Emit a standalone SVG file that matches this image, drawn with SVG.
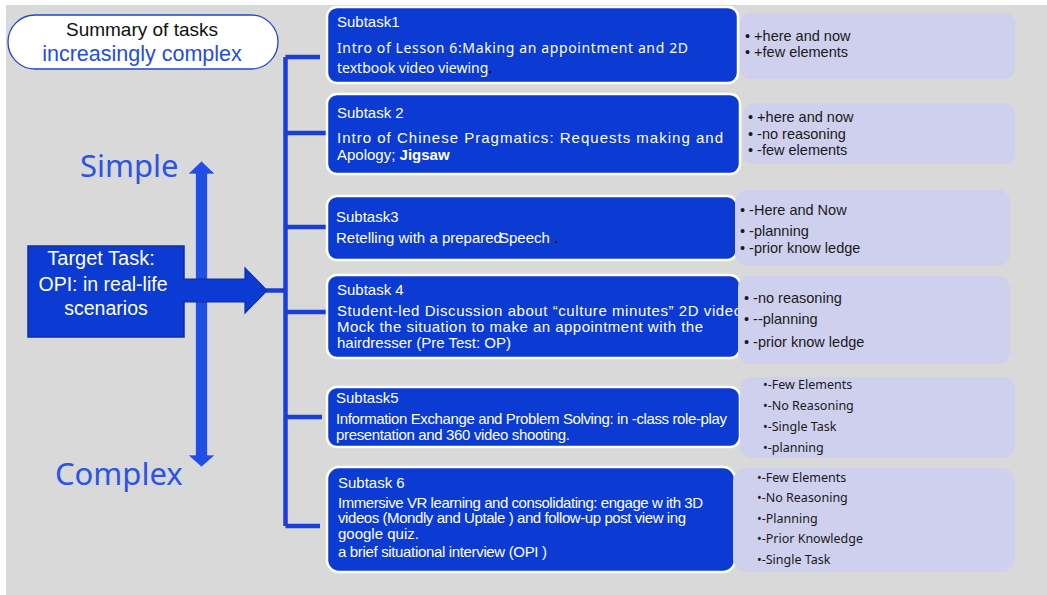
<svg xmlns="http://www.w3.org/2000/svg" width="1047" height="595" viewBox="0 0 1047 595">
<defs>
<style>
.bg{fill:#d9d9d9}
.sub{fill:#0b3bd3;stroke:#ffffff;stroke-width:2.5}
.lav{fill:#cfcfee}
.wt{fill:#ffffff;font-family:"Liberation Sans",Arial,sans-serif;font-size:15px}
.wc{fill:#ffffff;font-family:"Noto Sans","Open Sans",sans-serif;font-size:14px}
.bt{fill:#1a1a1a;font-family:"Liberation Sans",Arial,sans-serif;font-size:14.5px}
.bs{fill:#1a1a1a;font-family:"Noto Sans","Open Sans",sans-serif;font-size:12.5px}
.br{stroke:#1b3fd6;stroke-width:4.5;fill:none}
.big{fill:#2a55e4;font-family:"Noto Sans","Open Sans",sans-serif;font-size:31px}
</style>
</defs>
<rect class="bg" x="6" y="5" width="1041" height="590"/>

<g id="summary">
<rect x="8" y="15" width="270" height="54" rx="27" fill="#ffffff" stroke="#2347c8" stroke-width="1.3"/>
<text x="142" y="36" text-anchor="middle" font-family="Liberation Sans,Arial,sans-serif" font-size="19" fill="#111">Summary of tasks</text>
<text x="142" y="61" text-anchor="middle" font-family="Liberation Sans,Arial,sans-serif" font-size="21.5" fill="#1f4fd8">increasingly complex</text>
</g>

<g id="scale">
<text class="big" x="80" y="177">Simple</text>
<text class="big" x="55" y="485">Complex</text>
<path d="M195.5,174 L188,174 L201.5,161 L215,174 L207.5,174 L207.5,455 L215,455 L201.5,467 L188,455 L195.5,455 Z" fill="#1f4fe6" stroke="#e8ecff" stroke-width="0.6"/>
</g>

<g id="connectors">
<path class="br" d="M285.5,57 L285.5,526"/>
<path class="br" d="M285.5,57 L320,57"/>
<path class="br" d="M285.5,133 L327,133"/>
<path class="br" d="M285.5,227 L327,227"/>
<path class="br" d="M285.5,312 L327,312"/>
<path class="br" d="M285.5,417 L322,417"/>
<path class="br" d="M285.5,526 L320,526"/>
<path class="br" d="M266,290.5 L285.5,290.5" stroke-width="4"/>
</g>

<g id="target">
<rect x="28" y="246" width="156" height="91" fill="#0b3bd3" stroke="#0a2fa8" stroke-width="1.5"/>
<path d="M184,279 L245,279 L245,268 L267,290.5 L245,313 L245,302 L184,302 Z" fill="#0b3bd3" stroke="#0a2fa8" stroke-width="1.2"/>
<rect x="183" y="280" width="3" height="21" fill="#0b3bd3"/>
<text x="101" y="265" text-anchor="middle" font-family="Liberation Sans,Arial,sans-serif" font-size="20" fill="#fff">Target Task:</text>
<text x="103" y="291" text-anchor="middle" font-family="Liberation Sans,Arial,sans-serif" font-size="19.5" fill="#fff">OPI: in real-life</text>
<text x="106" y="315" text-anchor="middle" font-family="Liberation Sans,Arial,sans-serif" font-size="19.5" fill="#fff">scenarios</text>
</g>

<g id="subtask1">
<rect class="sub" x="327" y="7" width="411" height="76" rx="10"/>
<text class="wt" x="337" y="27">Subtask1</text>
<text class="wc" x="337" y="53" textLength="351">Intro of Lesson 6:Making an appointment and 2D</text>
<text class="wc" x="337" y="73">textbook video viewing<tspan fill="#000">.</tspan></text>
</g>

<g id="subtask2">
<rect class="sub" x="327" y="94" width="413" height="80" rx="10"/>
<text class="wt" x="337" y="118" font-size="16.5">Subtask 2</text>
<text class="wt" x="337" y="143" font-size="16.5" textLength="386">Intro of Chinese Pragmatics: Requests making and</text>
<text class="wt" x="337" y="160" font-size="16.5">Apology; <tspan font-weight="bold">Jigsaw</tspan></text>
</g>

<g id="subtask3">
<rect class="sub" x="327" y="196" width="410" height="64" rx="10"/>
<text class="wt" x="336" y="222" font-size="15">Subtask3</text>
<text class="wt" x="336" y="243" font-size="15.5">Retelling with a prepared<tspan dx="-3">Speech</tspan><tspan fill="#000"> .</tspan></text>
</g>

<g id="subtask4">
<rect class="sub" x="327" y="275" width="413" height="83" rx="10"/>
<text class="wt" x="337" y="295" font-size="15.5">Subtask 4</text>
<text class="wt" x="337" y="316" font-size="16" textLength="405">Student-led Discussion about “culture minutes” 2D video</text>
<text class="wt" x="337" y="332" font-size="16" textLength="366">Mock the situation to make an appointment with the</text>
<text class="wt" x="337" y="348" font-size="16">hairdresser (Pre Test: OP)</text>
</g>

<g id="subtask5">
<rect class="sub" x="327" y="387" width="413" height="60" rx="10"/>
<text class="wt" x="336" y="403" font-size="14.5">Subtask5</text>
<text class="wt" x="336" y="424" font-size="14.5" textLength="391">Information Exchange and Problem Solving: in  -class role-play</text>
<text class="wt" x="336" y="440" font-size="14.5" textLength="234">presentation and 360 video shooting.</text>
</g>

<g id="subtask6">
<rect class="sub" x="327" y="467" width="408" height="105" rx="12"/>
<text class="wt" x="338" y="488" font-size="15.5">Subtask 6</text>
<text class="wt" x="338" y="508" font-size="15.5" textLength="365">Immersive VR learning and consolidating: engage w ith 3D</text>
<text class="wt" x="338" y="523" font-size="15.5" textLength="348">videos (Mondly and Uptale ) and follow-up post view ing</text>
<text class="wt" x="338" y="539" font-size="15.5">google quiz.</text>
<text class="wt" x="338" y="557" font-size="15.5" textLength="209">a brief situational interview (OPI  )</text>
</g>

<g id="notes1">
<rect class="lav" x="740" y="13" width="275" height="66" rx="10"/>
<text class="bt" x="745" y="41">• +here and now</text>
<text class="bt" x="745" y="57">• +few  elements</text>
</g>

<g id="notes2">
<rect class="lav" x="743" y="103" width="272" height="61" rx="10"/>
<text class="bt" x="748" y="122">• +here and now</text>
<text class="bt" x="748" y="139">• -no reasoning</text>
<text class="bt" x="748" y="155">• -few  elements</text>
</g>

<g id="notes3">
<rect class="lav" x="735" y="190" width="275" height="76" rx="12"/>
<text class="bt" x="740" y="215" font-size="16.5">• -Here and Now</text>
<text class="bt" x="740" y="236">• -planning</text>
<text class="bt" x="740" y="253">• -prior know ledge</text>
</g>

<g id="notes4">
<rect class="lav" x="738" y="276" width="272" height="88" rx="12"/>
<text class="bt" x="744" y="303">• -no reasoning</text>
<text class="bt" x="744" y="324">• --planning</text>
<text class="bt" x="744" y="347">• -prior know ledge</text>
</g>

<g id="notes5">
<rect class="lav" x="740" y="377" width="275" height="81" rx="12"/>
<text class="bs" x="763" y="389">•-Few Elements</text>
<text class="bs" x="763" y="410">•-No Reasoning</text>
<text class="bs" x="763" y="431">•-Single Task</text>
<text class="bs" x="763" y="452">•-planning</text>
</g>

<g id="notes6">
<rect class="lav" x="733" y="468" width="282" height="104" rx="14"/>
<text class="bs" x="757" y="482">•-Few Elements</text>
<text class="bs" x="757" y="502">•-No Reasoning</text>
<text class="bs" x="757" y="523">•-Planning</text>
<text class="bs" x="757" y="543">•-Prior Knowledge</text>
<text class="bs" x="757" y="564">•-Single Task</text>
</g>
</svg>
